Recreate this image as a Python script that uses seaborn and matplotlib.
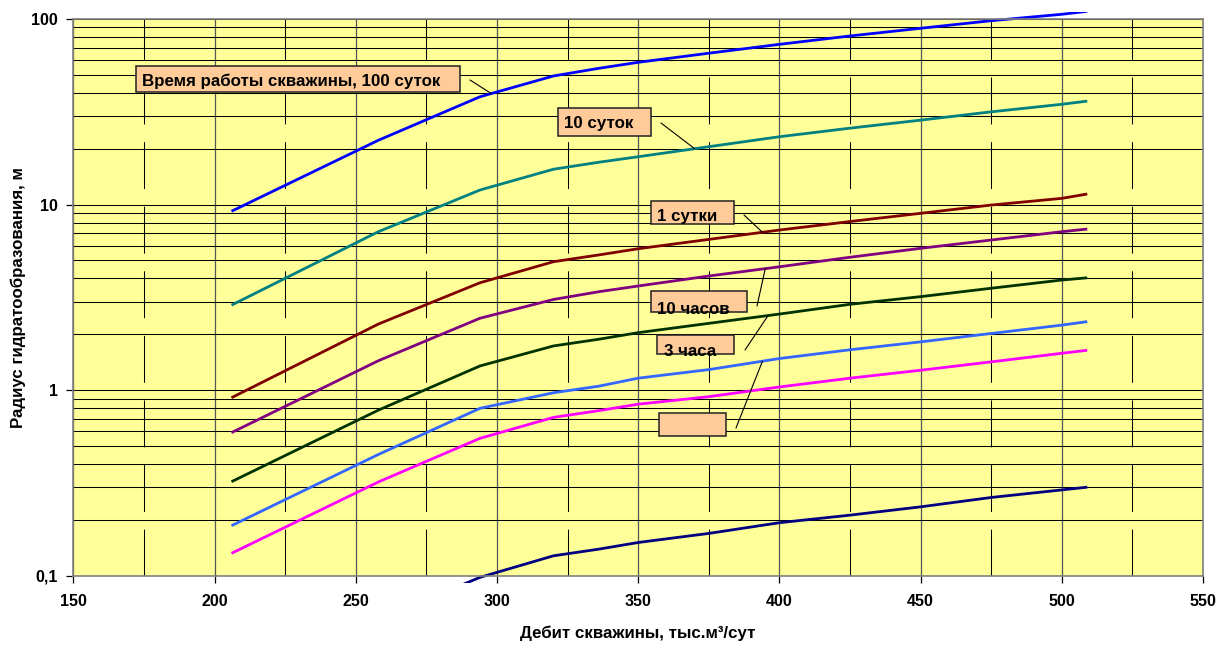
import numpy as np
import pandas as pd
import matplotlib
matplotlib.use("Agg")
import matplotlib.pyplot as plt
import seaborn as sns
from matplotlib.patches import Rectangle
from matplotlib.ticker import FixedLocator, FixedFormatter, NullFormatter

plt.rcParams["font.family"] = ["Liberation Sans", "DejaVu Sans"]
plt.rcParams["font.weight"] = "bold"

# Дебит скважины, тыс. м3/сут
debit = [206, 258, 294, 320, 336, 350, 375, 400, 425, 450, 475, 500, 509]

# Радиус гидратообразования, м — по времени работы скважины
r_100_days = [9.2, 22.2, 38.1, 49.3, 54.2, 58.4, 65.4, 73.0, 81.0, 89.1, 97.9, 106.0, 110.0]
r_10_days = [2.87, 7.14, 11.98, 15.5, 16.9, 18.1, 20.5, 23.2, 25.8, 28.5, 31.6, 34.7, 36.1]
r_1_day = [0.91, 2.27, 3.79, 4.92, 5.35, 5.78, 6.49, 7.29, 8.1, 8.97, 9.94, 10.8, 11.4]
r_10_hours = [0.59, 1.44, 2.44, 3.08, 3.39, 3.64, 4.12, 4.62, 5.2, 5.81, 6.44, 7.14, 7.38]
r_3_hours = [0.321, 0.78, 1.35, 1.73, 1.88, 2.04, 2.29, 2.57, 2.9, 3.19, 3.54, 3.92, 4.03]
r_series_6 = [0.186, 0.45, 0.798, 0.968, 1.05, 1.16, 1.29, 1.48, 1.65, 1.82, 2.02, 2.24, 2.34]
r_series_7 = [0.132, 0.32, 0.55, 0.713, 0.775, 0.84, 0.922, 1.04, 1.16, 1.28, 1.42, 1.58, 1.64]
r_series_8 = [0.029, 0.058, 0.098, 0.128, 0.139, 0.151, 0.169, 0.193, 0.212, 0.235, 0.264, 0.29, 0.30]

series = {
    "100 суток": r_100_days,
    "10 суток": r_10_days,
    "1 сутки": r_1_day,
    "10 часов": r_10_hours,
    "3 часа": r_3_hours,
    "s6": r_series_6,
    "s7": r_series_7,
    "s8": r_series_8,
}
colors = {
    "100 суток": "#0000FF",
    "10 суток": "#008080",
    "1 сутки": "#800000",
    "10 часов": "#800080",
    "3 часа": "#003300",
    "s6": "#3366FF",
    "s7": "#FF00FF",
    "s8": "#000080",
}

# Подписи кривых: текст, кривая, дебит в точке выноски
callout_texts = ["Время работы скважины, 100 суток", "10 суток", "1 сутки", "10 часов", "3 часа", ""]
callout_series = ["100 суток", "10 суток", "1 сутки", "10 часов", "3 часа", "s6"]
callout_debit = [298, 370, 394, 395, 396, 394]

x_ticks = [150, 200, 250, 300, 350, 400, 450, 500, 550]
y_ticks = [0.1, 1, 10, 100]
y_tick_labels = ["0,1", "1", "10", "100"]

df = pd.concat(
    [pd.DataFrame({"debit": debit, "radius": vals, "curve": name}) for name, vals in series.items()],
    ignore_index=True,
)

W_PX, H_PX = 1232, 650
fig = plt.figure(figsize=(W_PX / 100, H_PX / 100), dpi=100)
ax = fig.add_axes([0.0595, 0.1143, 0.9170, 0.8565])
ax.set_facecolor("#FFFF99")

sns.lineplot(data=df, x="debit", y="radius", hue="curve", hue_order=list(series.keys()),
             palette=colors, estimator=None, sort=False, legend=False, linewidth=2.0, ax=ax)

ax.set_yscale("log")
ax.set_xlim(150, 550)
ax.set_ylim(0.1, 100)

# lines may run a few pixels past the plot frame
clip = Rectangle((0, -0.013), 1, 1.026, transform=ax.transAxes, visible=False)
ax.add_patch(clip)
for ln in ax.lines:
    ln.set_clip_path(clip)
    ln.set_solid_capstyle("butt")

# ticks
ax.xaxis.set_major_locator(FixedLocator(x_ticks))
ax.xaxis.set_minor_locator(FixedLocator([v + 25 for v in x_ticks[:-1]]))
ax.yaxis.set_major_locator(FixedLocator(y_ticks))
ax.yaxis.set_major_formatter(FixedFormatter(y_tick_labels))
minor_y = [m * d for d in (0.1, 1, 10) for m in range(2, 10)]
ax.yaxis.set_minor_locator(FixedLocator(minor_y))
ax.yaxis.set_minor_formatter(NullFormatter())
ax.tick_params(which="major", direction="out", length=5, width=0.9, color="black",
               labelsize=11.5)
ax.tick_params(axis="x", which="major", pad=8)
ax.tick_params(axis="y", which="major", pad=6)
ax.tick_params(which="minor", length=0)
for lab in ax.get_xticklabels() + ax.get_yticklabels():
    lab.set_fontweight("bold")

# grid
ax.set_axisbelow(True)
ax.yaxis.grid(True, which="both", color="black", linewidth=0.75)
ax.xaxis.grid(True, which="major", color="#555555", linewidth=0.9)
ax.xaxis.grid(True, which="minor", color="black", linewidth=0.75, linestyle=(0, (45, 17)))

for sp in ax.spines.values():
    sp.set_color("#808080")
    sp.set_linewidth(1.2)

ax.set_xlabel("Дебит скважины, тыс.м³/сут", fontsize=12.2, fontweight="bold")
ax.set_ylabel("Радиус гидратообразования, м", fontsize=12.2, fontweight="bold")
ax.xaxis.set_label_coords(0.5, -0.090)
ax.yaxis.set_label_coords(-0.042, 0.5)


def to_axes(px, py):
    """Figure pixel (from top-left) to axes fraction."""
    disp = fig.dpi_scale_trans.transform((px / 100, (H_PX - py) / 100))
    return ax.transAxes.inverted().transform(disp)


# callout boxes: (left, top, right, bottom) px, text baseline px, leader start px
box_px = [(136, 66, 460, 92), (558, 108, 651, 136), (651, 201, 734, 224),
          (651, 291, 747, 312), (657, 335, 734, 354), (659, 413, 726, 436)]
baseline_px = [86, 128, 221, 314, 356, 430]
leader_px = [(470, 80), (661, 123), (744, 215), (757, 306), (745, 350), (736, 428)]

for text, name, xd, (l, t, r, b), base, (lx, ly) in zip(
        callout_texts, callout_series, callout_debit, box_px, baseline_px, leader_px):
    x0, y0 = to_axes(l, b)
    x1, y1 = to_axes(r, t)
    rect = Rectangle((x0, y0), x1 - x0, y1 - y0, transform=ax.transAxes,
                     facecolor="#FFCC99", edgecolor="#222222", linewidth=1.1, zorder=6)
    ax.add_patch(rect)
    if text:
        tx, ty = to_axes(l + 6.5, base)
        tt = ax.text(tx, ty, text, transform=ax.transAxes, fontsize=12.2, fontweight="bold",
                     ha="left", va="baseline", zorder=7)
        tt.set_clip_path(rect)
    vals = series[name]
    yd = 10 ** np.interp(xd, debit, np.log10(vals))
    sx, sy = to_axes(lx, ly)
    ax.annotate("", xy=(xd, yd), xycoords="data", xytext=(sx, sy), textcoords="axes fraction",
                arrowprops=dict(arrowstyle="-", color="black", lw=0.8, shrinkA=0, shrinkB=0),
                zorder=5)

fig.savefig("out.png", dpi=100, facecolor="white")
